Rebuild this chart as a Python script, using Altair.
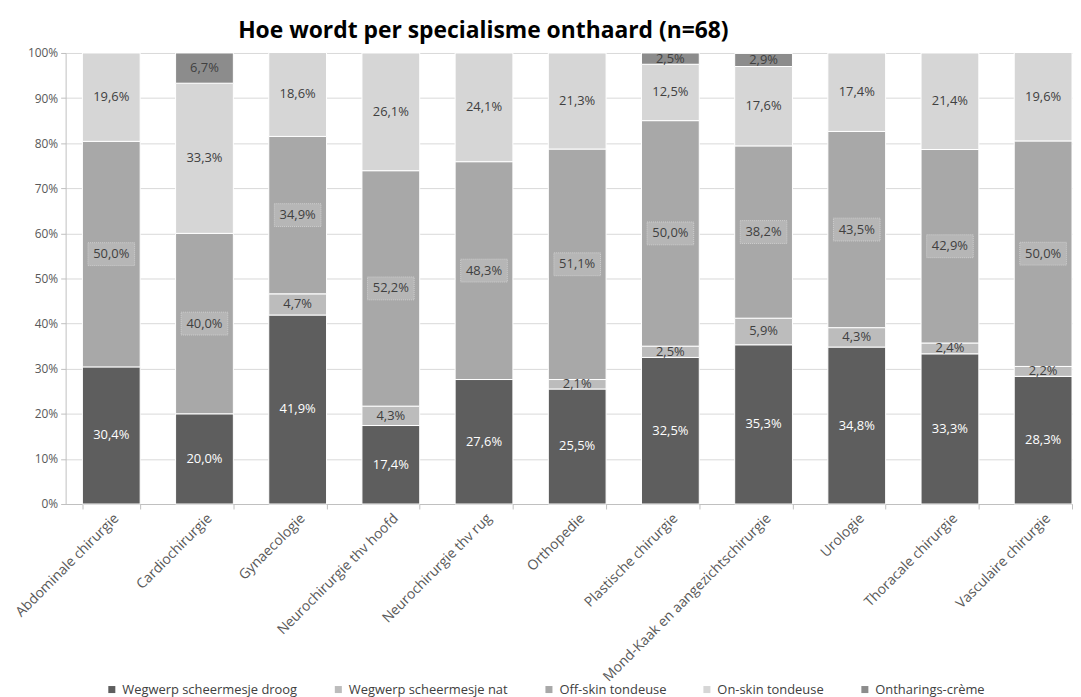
import altair as alt
import pandas as pd

categories = ["Abdominale chirurgie", "Cardiochirurgie", "Gynaecologie",
              "Neurochirurgie thv hoofd", "Neurochirurgie thv rug", "Orthopedie",
              "Plastische chirurgie", "Mond-Kaak en aangezichtschirurgie",
              "Urologie", "Thoracale chirurgie", "Vasculaire chirurgie"]
series = ["Wegwerp scheermesje droog", "Wegwerp scheermesje nat",
          "Off-skin tondeuse", "On-skin tondeuse", "Ontharings-crème"]

droog = [30.4, 20.0, 41.9, 17.4, 27.6, 25.5, 32.5, 35.3, 34.8, 33.3, 28.3]
nat = [0.0, 0.0, 4.7, 4.3, 0.0, 2.1, 2.5, 5.9, 4.3, 2.4, 2.2]
offskin = [50.0, 40.0, 34.9, 52.2, 48.3, 51.1, 50.0, 38.2, 43.5, 42.9, 50.0]
onskin = [19.6, 33.3, 18.6, 26.1, 24.1, 21.3, 12.5, 17.6, 17.4, 21.4, 19.6]
creme = [0.0, 6.7, 0.0, 0.0, 0.0, 0.0, 2.5, 2.9, 0.0, 0.0, 0.0]

colors = ["#5e5e5e", "#bcbcbc", "#a8a8a8", "#d6d6d6", "#8c8c8c"]
text_colors = ["#ffffff", "#404040", "#404040", "#404040", "#404040"]
boxed = [False, False, True, False, False]

rows = []
for si, (s, vals) in enumerate(zip(series, [droog, nat, offskin, onskin, creme])):
    for c, v in zip(categories, vals):
        if v > 0:
            rows.append({"cat": c, "serie": s, "order": si, "value": v / 100.0,
                         "label": (f"{v:.1f}%").replace(".", ","),
                         "tcol": text_colors[si], "boxed": boxed[si]})
df = pd.DataFrame(rows)

base = alt.Chart(df).transform_stack(
    stack="value", groupby=["cat"], as_=["y0", "y1"],
    sort=[alt.SortField("order", order="ascending")]
).transform_calculate(mid="(datum.y0 + datum.y1) / 2")

xscale = alt.Scale(paddingInner=0.38, paddingOuter=0.09, align=1)

x = alt.X("cat:N", sort=categories, title=None, scale=xscale,
          axis=alt.Axis(labelAngle=-45, labelFontSize=14, labelColor="#595959",
                        labelFont="Open Sans", tickBand="extent",
                        domainColor="#bfbfbf", tickColor="#bfbfbf", ticks=True,
                        tickSize=5, labelPadding=2, labelLimit=400))

bars = base.mark_bar(stroke="white", strokeWidth=1).encode(
    x=x,
    y=alt.Y("y0:Q", title=None,
            scale=alt.Scale(domain=[0, 1]),
            axis=alt.Axis(format=".0%", values=[i / 10 for i in range(11)],
                          labelFontSize=12, labelColor="#595959",
                          labelFont="Open Sans", gridColor="#d9d9d9",
                          domainColor="#bfbfbf", tickColor="#bfbfbf",
                          ticks=True, tickSize=5, labelPadding=3)),
    y2="y1:Q",
    color=alt.Color("serie:N", sort=series,
                    scale=alt.Scale(domain=series, range=colors),
                    legend=alt.Legend(orient="none", direction="horizontal",
                                      legendX=40, legendY=634,
                                      title=None, symbolType="square",
                                      symbolSize=50, labelFontSize=13,
                                      labelColor="#404040", labelFont="Open Sans",
                                      columnPadding=34, symbolStrokeWidth=0,
                                      labelLimit=400)),
)

boxes = base.transform_filter("datum.boxed").mark_point(
    shape="M-1,-0.49H1V0.49H-1Z", size=2200, filled=True, opacity=1,
    fill="#b6b6b6", stroke="#cfcfcf", strokeWidth=1, strokeDash=[1, 1]
).encode(
    x=alt.X("cat:N", sort=categories),
    y=alt.Y("mid:Q"),
)

texts = base.mark_text(fontSize=13, font="Open Sans").encode(
    x=alt.X("cat:N", sort=categories),
    y=alt.Y("mid:Q"),
    text="label:N",
    color=alt.Color("tcol:N", scale=None, legend=None),
)

chart = alt.layer(bars, boxes, texts).properties(
    width=1013, height=454,
    title=alt.Title("Hoe wordt per specialisme onthaard (n=68)", fontSize=23,
                    font="Open Sans", fontWeight="bold", color="#000000",
                    anchor="middle", offset=4, dx=-86),
    padding={"left": 4, "top": 10, "right": 0, "bottom": 0},
).configure_view(stroke=None)

chart.save("out.html", embed_options={"renderer": "svg", "actions": False})
